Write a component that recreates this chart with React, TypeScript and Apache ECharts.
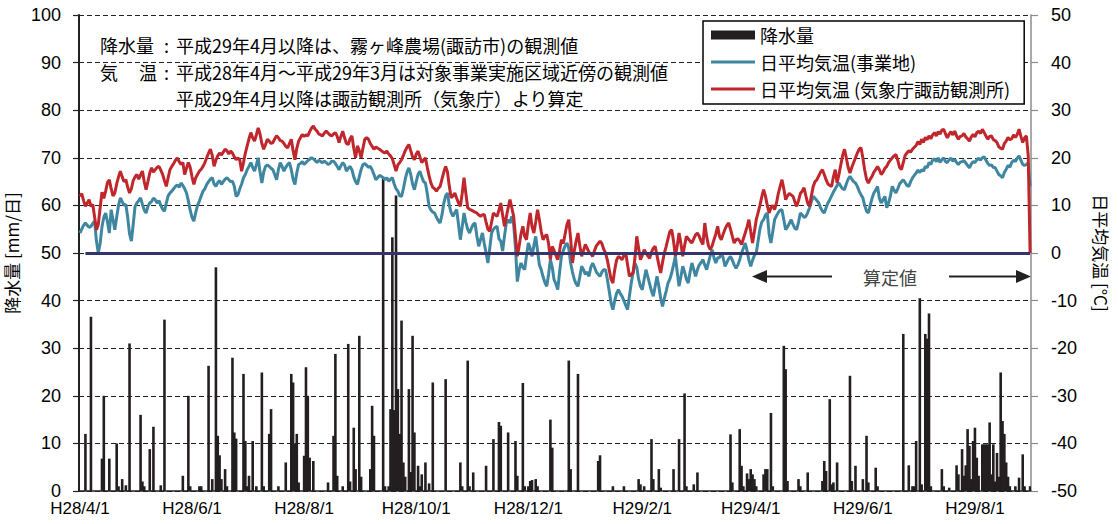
import React, { useEffect, useRef } from 'react';
import * as echarts from 'echarts';

// Daily categories: 2016-04-01 .. 2017-08-31, labelled in Heisei era form (H28/4/1)
const START_UTC = Date.UTC(2016, 3, 1);
const DAY_COUNT = 518;
const heiseiLabel = (i: number): string => {
  const d = new Date(START_UTC + i * 86400000);
  return `H${d.getUTCFullYear() - 1988}/${d.getUTCMonth() + 1}/${d.getUTCDate()}`;
};
const days: string[] = Array.from({ length: DAY_COUNT }, (_, i) => heiseiLabel(i));

const xTickLabels = ['H28/4/1', 'H28/6/1', 'H28/8/1', 'H28/10/1', 'H28/12/1', 'H29/2/1', 'H29/4/1', 'H29/6/1', 'H29/8/1'];

// Daily precipitation [mm/day], as [day index, amount]; other days had no rain
const rainfallByDay: Array<[number, number]> = [
  [3, 12], [6, 36.6], [12, 6.8], [13, 20], [16, 6.8], [20, 10], [21, 1], [23, 2.5], [25, 1.2], [27, 31],
  [33, 16], [34, 2], [35, 1], [38, 8.8], [40, 13.5], [44, 1.2], [46, 36], [56, 3.2], [59, 20], [60, 1],
  [65, 1], [66, 1], [70, 26.3], [72, 2.5], [74, 47], [75, 11.6], [76, 7.5], [77, 2.5], [79, 4.6], [80, 1],
  [83, 28], [84, 12.3], [85, 11], [89, 24.6], [90, 10.5], [91, 1], [92, 3.2], [94, 10.5], [96, 1], [99, 24.9],
  [100, 1], [103, 12], [104, 17.2], [108, 1], [112, 6], [115, 24.6], [116, 22.8], [117, 10], [118, 12], [119, 1.8],
  [122, 7.4], [123, 26], [124, 20], [125, 7], [127, 6.3], [135, 1.8], [138, 11.6], [139, 28.8], [140, 3.2], [143, 1],
  [146, 30.9], [147, 2], [149, 13.3], [150, 4.6], [152, 32.6], [153, 3], [158, 4.6], [159, 17.9], [160, 11.6], [165, 66],
  [166, 1], [168, 1], [169, 17.2], [170, 53.3], [171, 17], [172, 62.1], [173, 21.4], [174, 12], [175, 35.8], [176, 6],
  [177, 3], [179, 21.4], [180, 4], [181, 32.6], [182, 12.3], [184, 5.3], [185, 1], [186, 3.5], [188, 6], [190, 1.6],
  [192, 22.8], [199, 23.5], [207, 6], [208, 1], [211, 27.4], [212, 1], [214, 3.9], [221, 5.3], [225, 10.9], [228, 14.5],
  [229, 13.7], [233, 12.3], [237, 10.5], [238, 3.2], [241, 22.7], [242, 1], [244, 1], [245, 2.1], [246, 2.3], [248, 2.5],
  [249, 1], [256, 15], [257, 9.1], [266, 27.4], [267, 4.6], [271, 24.6], [282, 6.3], [283, 7.5], [290, 1], [296, 1],
  [304, 2.5], [305, 1.4], [307, 1], [311, 10.9], [312, 2.5], [315, 4.6], [316, 0.7], [323, 4.6], [326, 10.9], [329, 20.5],
  [330, 1], [334, 1.4], [336, 3.9], [354, 11.9], [355, 1.8], [359, 13], [360, 5.3], [361, 1], [363, 3.7], [364, 2.5],
  [365, 4.6], [366, 3.5], [367, 2.5], [368, 1], [372, 3.5], [373, 4.6], [374, 4.6], [376, 16.4], [377, 1], [383, 30.5],
  [384, 25.6], [385, 2.1], [391, 2.5], [392, 1], [396, 3.9], [404, 2.1], [405, 6.3], [406, 4.2], [408, 19.3], [409, 1.4],
  [410, 1.8], [412, 6], [419, 24.2], [420, 2.1], [422, 5.3], [426, 2.5], [428, 11.6], [429, 1.8], [433, 4.9], [434, 1],
  [448, 33], [451, 5.4], [453, 1], [454, 1], [455, 10.5], [457, 40.5], [458, 1.4], [460, 33], [461, 32], [462, 37.3],
  [463, 1], [469, 4.6], [470, 1], [473, 0.7], [477, 5.4], [478, 3.5], [480, 8.8], [481, 3.2], [482, 5.4], [483, 13],
  [484, 9.5], [485, 2.5], [486, 10.5], [487, 13.3], [488, 7], [489, 3.2], [491, 9.8], [492, 9.8], [493, 9.8], [494, 9.8],
  [495, 14.4], [496, 3.5], [497, 9.8], [498, 2], [499, 8], [500, 3], [501, 24.9], [502, 14.7], [503, 12], [504, 6],
  [505, 3], [506, 1], [509, 1], [511, 2.8], [513, 7.7], [514, 1], [517, 1],
];

// Daily mean temperature at the project site [°C]
const tempSite: number[] = [
  // Apr - Jun 2016
  4.2, 5.0, 5.8, 6.3, 5.8, 5.4, 5.6, 6.2, 6.7, 2.5,
  0.0, 2.0, 5.5, 7.5, 8.4, 6.5, 4.2, 9.1, 7.0, 4.9,
  7.5, 10.0, 11.6, 10.8, 10.0, 10.2, 7.5, 4.0, 2.5, 6.0,
  9.8, 10.5, 11.0, 11.6, 10.2, 9.0, 8.4, 9.8, 10.5, 10.8,
  11.5, 11.2, 10.5, 11.0, 10.0, 9.2, 8.8, 10.5, 12.0, 12.6,
  13.0, 13.5, 14.0, 14.3, 13.8, 14.7, 14.2, 13.5, 12.6, 11.0,
  9.0, 7.5, 6.7, 8.5, 10.0, 10.9, 12.0, 13.0, 13.5, 14.4,
  15.0, 15.5, 15.8, 14.5, 14.0, 14.8, 15.2, 14.4, 15.0, 15.5,
  15.8, 15.4, 15.0, 15.1, 14.0, 11.9,
  // Jun - Sep 2016
  12.3, 13.5, 14.5, 15.8, 16.5, 17.5, 18.2, 19.0, 18.0, 17.2,
  18.5, 20.0, 17.0, 14.7, 17.0, 18.2, 18.5, 18.2, 17.8, 17.5,
  16.5, 15.4, 17.5, 19.0, 18.2, 17.2, 18.0, 18.6, 19.0, 17.5,
  15.5, 14.4, 16.8, 18.6, 18.8, 19.2, 18.6, 19.0, 19.4, 19.7,
  20.0, 19.8, 19.4, 19.0, 19.5, 19.2, 19.0, 19.3, 19.0, 18.6,
  18.8, 19.3, 19.3, 18.8, 18.2, 17.5, 18.3, 19.0, 18.5, 17.2,
  17.8, 18.2, 17.5, 16.0, 15.0, 14.4, 16.0, 17.5, 18.6, 18.8,
  18.4, 18.0, 18.2, 17.5, 16.5, 15.4, 15.8, 16.3, 16.1, 15.8,
  15.4, 15.8, 15.1, 15.5, 15.8, 14.5, 13.5,
  // Sep - Dec 2016
  13.0, 12.0, 11.9, 13.5, 15.5, 17.0, 17.9, 16.5, 14.5, 13.3,
  15.0, 16.5, 17.2, 16.0, 15.0, 14.7, 12.5, 9.8, 9.0, 8.6,
  8.4, 7.5, 6.8, 6.3, 8.0, 10.5, 12.0, 12.6, 10.0, 8.5,
  7.7, 8.5, 9.1, 6.0, 2.8, 5.5, 8.4, 6.5, 5.0, 4.2,
  5.2, 6.0, 6.3, 3.5, 1.4, 2.8, 4.2, 2.0, 0.0, -2.1,
  1.0, 4.2, 5.0, 5.4, 5.6, 3.0, 2.5, 0.4, 3.5, 6.3,
  7.0, 6.3, 7.7, 6.0, 1.0, -6.0, -3.5, -2.1, -3.0, -3.5,
  -0.5, 2.1, 1.0, -0.7, 1.5, 3.5, 0.5, -2.5, -3.5, -5.0,
  -6.2, -7.0, -4.5, -1.4, -3.0, -5.6, -6.5, -7.7,
  // Dec 2016 - Mar 2017
  -4.0, -0.7, 0.5, 1.5, 2.1, 1.0, -2.1, -4.0, -5.5, -6.5,
  -7.0, -5.0, -2.8, -3.5, -4.5, -4.0, -4.9, -3.0, -2.1, -3.0,
  -4.0, -4.5, -4.9, -4.0, -3.5, -3.5, -5.5, -8.0, -10.5, -11.9,
  -10.0, -8.5, -7.7, -8.5, -9.1, -10.0, -11.0, -11.9, -9.0, -6.3,
  -4.0, -2.1, -3.0, -5.5, -7.0, -7.7, -5.5, -3.5, -5.0, -6.5,
  -8.0, -9.1, -7.0, -4.9, -7.0, -9.5, -11.2, -9.5, -8.0, -6.3,
  -5.5, -4.2, -2.5, -0.7, -4.0, -7.0, -5.0, -2.8, -4.0, -5.5,
  -6.3, -4.0, -2.1, -3.5, -4.9, -3.5, -2.5, -2.0, -1.4, -2.5,
  -3.5, -2.0, -0.5, 0.7, -1.0, -2.1, -1.0,
  // Mar - Jun 2017
  -1.0, 0.0, -1.0, -2.8, -2.0, -1.2, -0.7, -1.5, -2.5, -3.2,
  -2.5, -1.4, 0.0, 1.0, 2.1, 0.5, -1.5, -2.8, -1.5, -0.5,
  0.0, 2.5, 5.0, 6.5, 7.0, 8.0, 8.4, 4.0, 2.1, 4.5,
  7.0, 7.8, 8.5, 9.0, 9.1, 7.0, 4.9, 5.5, 6.2, 7.0,
  6.0, 5.2, 4.9, 6.5, 8.4, 8.0, 7.5, 7.7, 8.5, 9.5,
  10.8, 11.9, 11.5, 11.0, 10.5, 9.5, 8.8, 8.4, 9.5, 10.5,
  11.2, 12.0, 12.8, 13.5, 14.2, 14.7, 14.0, 13.5, 13.3, 14.5,
  15.5, 16.1, 15.5, 15.0, 14.7, 14.0, 13.0, 12.2, 11.6, 10.0,
  8.8, 8.4, 10.0, 11.5, 12.6, 13.2, 14.0,
  // Jun - Aug 2017
  11.5, 10.5, 11.2, 11.9, 9.5, 10.5, 12.0, 14.0, 13.2, 12.6,
  13.5, 14.5, 15.0, 15.4, 14.8, 14.2, 14.0, 15.0, 15.8, 16.3,
  16.8, 17.4, 16.9, 17.5, 17.2, 18.2, 17.9, 19.0, 18.6, 19.5,
  19.8, 19.2, 20.0, 19.0, 19.6, 20.0, 19.2, 19.0, 19.6, 19.9,
  19.3, 19.7, 19.0, 18.6, 19.1, 19.2, 19.4, 18.9, 18.4, 17.9,
  18.7, 19.2, 19.0, 19.6, 19.9, 19.5, 20.0, 20.2, 19.5, 18.8,
  18.4, 18.5, 18.0, 17.9, 17.2, 16.5, 16.2, 15.8, 16.9, 17.6,
  18.4, 18.0, 19.0, 19.5, 19.2, 19.9, 20.4, 19.5, 18.6, 18.4,
  18.6, 18.9, 14.0,
];

// Daily mean temperature at JMA Suwa station [°C]
const tempSuwa: number[] = [
  // Apr - Jun 2016
  11.9, 12.5, 11.0, 9.8, 10.5, 11.2, 9.8, 10.2, 7.5, 4.9,
  6.0, 9.5, 12.8, 11.5, 13.0, 14.8, 15.4, 13.5, 12.0, 12.6,
  14.5, 16.0, 17.2, 16.0, 15.0, 15.4, 13.8, 12.6, 13.5, 15.2,
  16.0, 16.5, 15.5, 16.4, 17.2, 15.0, 13.3, 15.0, 16.8, 17.9,
  17.0, 17.5, 18.0, 18.2, 17.4, 16.5, 15.2, 14.0, 15.8, 17.5,
  18.2, 18.8, 19.5, 20.0, 19.2, 18.6, 19.0, 16.5, 17.8, 19.0,
  18.0, 16.0, 14.4, 15.8, 16.5, 17.2, 17.6, 18.2, 19.0, 20.0,
  21.0, 21.8, 20.5, 18.2, 19.5, 20.4, 21.0, 20.6, 21.2, 21.8,
  21.5, 20.8, 21.4, 21.0, 20.2, 19.6,
  // Jun - Sep 2016
  20.0, 19.5, 17.2, 19.0, 21.0, 22.5, 24.0, 25.3, 24.2, 23.5,
  24.8, 26.3, 25.0, 23.0, 21.8, 22.8, 23.9, 23.5, 23.0, 23.2,
  24.0, 24.6, 24.2, 23.6, 23.5, 23.0, 22.4, 22.1, 23.0, 23.9,
  21.5, 19.6, 22.0, 23.5, 24.2, 24.9, 24.5, 24.8, 24.6, 25.5,
  26.2, 26.7, 26.0, 25.6, 25.0, 24.8, 24.6, 25.2, 25.6, 25.2,
  24.8, 24.6, 25.0, 25.3, 24.5, 23.2, 24.5, 25.6, 24.2, 23.0,
  22.8, 24.0, 24.6, 22.0, 20.0, 22.5, 21.5, 20.0, 22.0, 23.9,
  24.2, 23.9, 23.0, 22.4, 21.8, 22.3, 22.0, 21.8, 21.5, 21.2,
  21.0, 21.4, 20.8, 20.4, 19.8, 18.5, 17.2,
  // Sep - Dec 2016
  18.5, 19.0, 19.6, 20.5, 21.5, 22.2, 22.8, 21.5, 20.2, 19.6,
  20.8, 21.4, 20.2, 19.0, 19.5, 20.0, 18.0, 16.2, 14.7, 13.8,
  13.5, 13.0, 13.6, 14.0, 15.5, 17.0, 18.2, 17.0, 14.0, 11.6,
  12.0, 12.6, 11.5, 10.5, 9.8, 12.5, 15.8, 12.5, 9.5, 9.2,
  9.0, 8.8, 8.6, 8.4, 8.0, 7.7, 8.0, 8.1, 6.5, 5.0,
  4.6, 6.5, 8.4, 8.0, 7.7, 9.0, 10.5, 8.0, 5.6, 7.5,
  9.5, 11.2, 9.5, 7.7, 3.5, -0.7, 1.5, 4.0, 5.6, 3.5,
  2.8, 6.0, 8.4, 5.5, 4.2, 6.5, 9.1, 7.0, 4.5, 2.8,
  3.5, 3.9, 2.0, -1.4, 1.4, 0.5, -0.5, -1.4,
  // Dec 2016 - Mar 2017
  0.5, 2.8, 2.0, 4.0, 6.0, 7.0, 3.0, -2.1, 0.5, 2.5,
  4.2, 1.5, -0.7, 0.5, 1.8, 1.0, 0.2, -0.2, -0.7, 0.5,
  1.5, 2.0, 2.5, 2.0, 0.8, 0.0, -1.5, -3.5, -5.5, -6.3,
  -3.5, -1.5, -0.7, -1.0, -1.4, -0.5, 0.0, -2.5, -4.9, -4.5,
  -4.2, -1.0, 3.5, 1.0, -1.4, -0.5, 0.7, 0.0, -0.6, -1.1,
  0.2, 1.0, 1.4, -0.5, -2.5, -4.2, -2.0, 0.0, 1.4, 3.0,
  4.5, 4.9, 2.5, -0.7, 1.5, 4.2, 2.0, -0.7, 1.5, 3.5,
  3.0, 2.5, 2.1, 3.0, 3.8, 4.2, 3.5, 2.5, 1.8, 6.3,
  3.5, 1.5, 0.7, 1.5, 2.8, 4.0, 5.6,
  // Mar - Jun 2017
  3.5, 2.8, 4.0, 5.0, 5.8, 6.3, 5.0, 3.5, 2.1, 2.8,
  3.0, 2.5, 1.8, 3.0, 4.2, 5.5, 7.0, 4.5, 2.1, 4.5,
  7.0, 8.5, 10.0, 11.8, 13.3, 12.0, 10.0, 8.4, 9.5, 10.0,
  9.1, 10.5, 12.5, 14.0, 15.4, 13.5, 11.2, 12.0, 12.5, 12.2,
  11.9, 10.8, 9.8, 11.0, 12.5, 13.0, 13.7, 12.0, 10.5, 9.8,
  12.0, 14.0, 15.0, 15.4, 16.2, 17.0, 17.5, 16.5, 15.4, 14.5,
  14.2, 14.0, 16.0, 17.5, 14.7, 16.5, 18.5, 20.5, 21.8, 20.0,
  18.0, 16.8, 18.0, 19.0, 20.0, 21.0, 21.8, 22.1, 20.0, 17.5,
  15.5, 14.7, 15.5, 16.1, 17.0, 17.5, 18.2,
  // Jun - Aug 2017 (last day not observed)
  17.5, 16.5, 17.0, 17.8, 18.2, 19.0, 19.5, 20.0, 20.4, 20.7,
  19.5, 18.0, 17.5, 19.0, 20.5, 21.0, 21.5, 21.2, 21.8, 22.2,
  22.6, 23.4, 22.8, 23.9, 23.2, 24.3, 23.8, 24.6, 24.0, 24.8,
  25.3, 24.6, 25.5, 25.0, 25.8, 26.0, 25.0, 24.2, 25.0, 25.5,
  24.8, 25.6, 24.6, 23.9, 24.5, 24.6, 25.1, 24.4, 24.0, 23.5,
  24.4, 24.9, 24.4, 25.3, 25.6, 25.1, 26.0, 25.3, 24.6, 23.9,
  24.5, 24.6, 23.8, 23.6, 23.2, 22.3, 22.0, 21.8, 23.0, 23.5,
  24.3, 23.8, 24.0, 24.8, 24.3, 24.9, 26.0, 24.5, 23.2, 24.2,
  24.6, 20.4, 0,
];

const noteLines = [
  '平成29年4月以降は、霧ヶ峰農場(諏訪市)の観測値',
  '平成28年4月～平成29年3月は対象事業実施区域近傍の観測値',
  '平成29年4月以降は諏訪観測所（気象庁）より算定',
];

const CJK = '"Noto Sans CJK JP", "Noto Sans CJK SC", sans-serif';
const LATIN = '"Liberation Sans", Arial, sans-serif';
const INK = '#231f20';
const SITE_COLOR = '#3f87a0';
const SUWA_COLOR = '#c0272d';
const LINE_ICON = 'path://M0,0H44V3H0Z';

export default function App() {
  const ref = useRef<HTMLDivElement>(null);

  useEffect(() => {
    if (!ref.current) return;
    const chart = echarts.init(ref.current, undefined, { renderer: 'svg' });

    const rain: (number | null)[] = days.map(() => null);
    rainfallByDay.forEach(([d, mm]) => { rain[d] = mm; });
    const tickSet = new Set(xTickLabels);

    const noteText = (text: string, x: number, y: number) => ({
      type: 'text', x, y, silent: true,
      style: { text, fontSize: 18, fontFamily: CJK, fill: '#000', verticalAlign: 'middle', align: 'left' },
    });

    const arrowY = 276.5;

    chart.setOption({
      animation: false,
      backgroundColor: '#ffffff',
      grid: { left: 79, right: 87, top: 15, bottom: 33, containLabel: false, outerBoundsMode: 'none' },
      legend: {
        orient: 'vertical',
        left: 703,
        top: 21,
        padding: [5, 14, 6, 8],
        itemGap: 9,
        itemWidth: 44,
        itemHeight: 9,
        borderColor: '#000',
        borderWidth: 1.5,
        backgroundColor: '#fff',
        textStyle: { fontSize: 18, fontFamily: CJK, color: '#000', lineHeight: 18 },
        data: [
          { name: '降水量', icon: 'rect' },
          { name: '日平均気温(事業地)', icon: LINE_ICON },
          { name: '日平均気温 (気象庁諏訪観測所)', icon: LINE_ICON },
        ],
      },
      xAxis: {
        type: 'category',
        data: days,
        boundaryGap: true,
        axisLine: { lineStyle: { color: '#222', width: 1.5 } },
        axisTick: { show: false },
        axisLabel: {
          interval: (_i: number, v: string) => tickSet.has(v),
          fontSize: 17,
          fontFamily: LATIN,
          color: '#000',
          margin: 9,
        },
        splitLine: { show: false },
      },
      yAxis: [
        {
          type: 'value',
          min: 0,
          max: 100,
          interval: 10,
          name: '降水量 [mm/日]',
          nameLocation: 'middle',
          nameGap: 52,
          nameTextStyle: { fontSize: 17, fontFamily: CJK, color: '#000' },
          axisLine: { show: true, lineStyle: { color: '#222', width: 2 } },
          axisTick: { show: true, length: 6, lineStyle: { color: '#222', width: 1.2 } },
          axisLabel: { fontSize: 18, fontFamily: LATIN, color: '#000', margin: 18 },
          splitLine: { show: true, lineStyle: { color: '#222', width: 1.2, type: [5, 3] } },
        },
        {
          type: 'value',
          min: -50,
          max: 50,
          interval: 10,
          position: 'right',
          name: '日平均気温 [°C]',
          nameLocation: 'middle',
          nameRotate: -90,
          nameGap: 62,
          nameTextStyle: { fontSize: 17, fontFamily: CJK, color: '#000' },
          axisLine: { show: true, lineStyle: { color: '#8c8c8c', width: 1.5 } },
          axisTick: { show: true, length: 7, lineStyle: { color: '#8c8c8c', width: 1.2 } },
          axisLabel: { fontSize: 18, fontFamily: LATIN, color: '#000', margin: 20 },
          splitLine: { show: false },
        },
      ],
      series: [
        {
          name: '降水量',
          type: 'bar',
          yAxisIndex: 0,
          data: rain,
          barWidth: 2.6,
          itemStyle: { color: INK },
        },
        {
          name: '日平均気温(事業地)',
          type: 'line',
          yAxisIndex: 1,
          data: tempSite,
          symbol: 'none',
          lineStyle: { color: SITE_COLOR, width: 3 },
          itemStyle: { color: SITE_COLOR },
        },
        {
          name: '日平均気温 (気象庁諏訪観測所)',
          type: 'line',
          yAxisIndex: 1,
          data: tempSuwa,
          symbol: 'none',
          lineStyle: { color: SUWA_COLOR, width: 3 },
          itemStyle: { color: SUWA_COLOR },
          markLine: {
            silent: true,
            symbol: 'none',
            label: { show: false },
            lineStyle: { color: '#34346a', width: 3, type: 'solid' },
            data: [[{ coord: [days[3], 0] }, { coord: [days[DAY_COUNT - 1], 0] }]],
          },
        },
      ],
      graphic: [
        noteText('降水量', 100, 45),
        noteText('気', 100, 72),
        noteText('温', 139, 72),
        noteText(':', 164, 45),
        noteText(':', 164, 72),
        noteText(noteLines[0], 176, 45),
        noteText(noteLines[1], 176, 72),
        noteText(noteLines[2], 176, 98),
        {
          type: 'line', silent: true,
          shape: { x1: 765, y1: arrowY, x2: 832, y2: arrowY },
          style: { stroke: '#222', lineWidth: 2 },
        },
        {
          type: 'polygon', silent: true,
          shape: { points: [[752, arrowY], [767, arrowY - 6.5], [767, arrowY + 6.5]] },
          style: { fill: '#222' },
        },
        {
          type: 'line', silent: true,
          shape: { x1: 949, y1: arrowY, x2: 1017, y2: arrowY },
          style: { stroke: '#222', lineWidth: 2 },
        },
        {
          type: 'polygon', silent: true,
          shape: { points: [[1031, arrowY], [1016, arrowY - 6.5], [1016, arrowY + 6.5]] },
          style: { fill: '#222' },
        },
        {
          type: 'text', x: 890, y: arrowY, silent: true,
          style: { text: '算定値', fontSize: 18, fontFamily: CJK, fill: '#444', align: 'center', verticalAlign: 'middle' },
        },
      ],
    });

    return () => chart.dispose();
  }, []);

  return (
    <div
      ref={ref}
      style={{ position: 'fixed', left: 0, top: 0, width: 1118, height: 524, background: '#fff' }}
    />
  );
}
